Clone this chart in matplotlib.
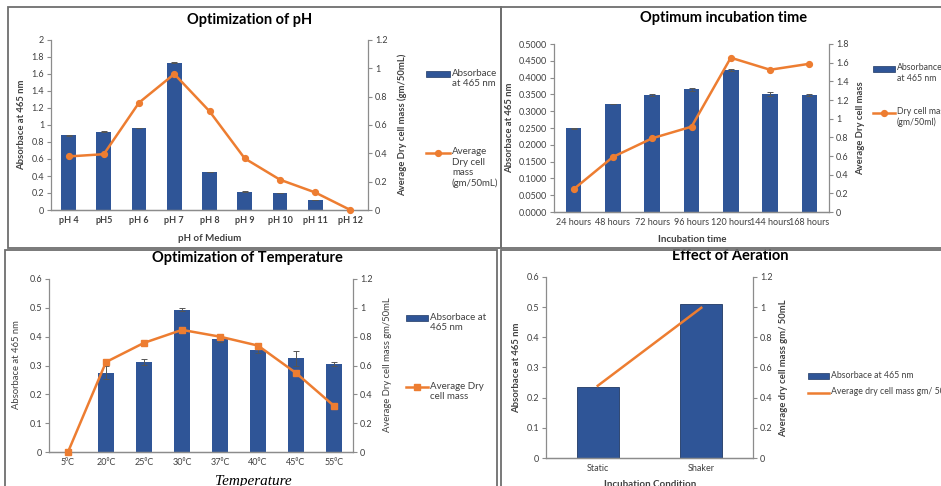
import matplotlib
matplotlib.use("Agg")
import matplotlib.pyplot as plt
from matplotlib.patches import Rectangle
from matplotlib.lines import Line2D
from matplotlib.ticker import FuncFormatter, MultipleLocator
import numpy as np

plt.rcParams['font.family'] = ['Lato', 'DejaVu Sans']

# ---------------- data ----------------
ph_labels = ["pH 4", "pH5", "pH 6", "pH 7", "pH 8", "pH 9", "pH 10", "pH 11", "pH 12"]
ph_abs = [0.88, 0.92, 0.965, 1.73, 0.446, 0.216, 0.20, 0.117, 0.0]
ph_abs_err = [0.005, 0.004, 0.005, 0.006, 0.003, 0.004, 0.003, 0.003, 0.0]
ph_mass = [0.378, 0.394, 0.758, 0.96, 0.697, 0.364, 0.214, 0.124, 0.0]

time_labels = ["24 hours", "48 hours", "72 hours", "96 hours", "120 hours", "144 hours", "168 hours"]
time_abs = [0.249, 0.321, 0.349, 0.365, 0.424, 0.351, 0.348]
time_abs_err = [0.002, 0.001, 0.003, 0.004, 0.003, 0.005, 0.003]
time_mass = [0.244, 0.59, 0.79, 0.914, 1.653, 1.524, 1.588]

temp_labels = ["5\u2070C", "20\u2070C", "25\u2070C", "30\u2070C", "37\u2070C", "40\u2070C", "45\u2070C", "55\u2070C"]
temp_abs = [0.0, 0.275, 0.311, 0.494, 0.392, 0.353, 0.325, 0.305]
temp_abs_err = [0.0, 0.022, 0.010, 0.006, 0.012, 0.010, 0.025, 0.008]
temp_mass = [0.0, 0.624, 0.757, 0.847, 0.80, 0.738, 0.548, 0.32]

aer_labels = ["Static", "Shaker"]
aer_abs = [0.237, 0.512]
aer_mass = [0.479, 0.996]

BLUE = "#2F5597"
ORANGE = "#ED7D31"
SPINE = "#8C8C8C"
TXT = "#404040"

W, H = 941, 486
fig = plt.figure(figsize=(W / 100, H / 100), dpi=100)


def fx(x):
    return x / W


def fy(y):
    return 1 - y / H


def add_ax(l, t, r, b):
    return fig.add_axes([fx(l), fy(b), fx(r) - fx(l), (b - t) / H])


def gfmt(v, pos):
    return f"{v:g}"


def style(ax, ax2, xbold=False):
    for a in (ax, ax2):
        a.spines['top'].set_visible(False)
        for s in a.spines.values():
            s.set_color(SPINE)
            s.set_linewidth(0.9)
        a.tick_params(axis='y', length=3, width=0.8, color=SPINE, labelsize=6.5,
                      labelcolor=TXT, pad=2)
        a.tick_params(axis='x', length=0, labelsize=6.5, labelcolor=TXT, pad=4)
    ax.spines['right'].set_visible(False)
    ax2.spines['left'].set_visible(False)


def legend_entry(kind, text, x0, x1, yc, fs=7.0, marker=None):
    """Legend key drawn in figure pixels: handle from x0 to x1 at centre yc."""
    if kind == 'bar':
        fig.add_artist(Rectangle((fx(x0), fy(yc + 3)), fx(x1) - fx(x0), 6 / H,
                                 transform=fig.transFigure, facecolor=BLUE,
                                 edgecolor='#1F3864', linewidth=0.5))
    else:
        fig.add_artist(Line2D([fx(x0), fx(x1)], [fy(yc), fy(yc)], transform=fig.transFigure,
                              color=ORANGE, lw=1.8))
        if marker:
            fig.add_artist(Line2D([fx((x0 + x1) / 2)], [fy(yc)], transform=fig.transFigure,
                                  color=ORANGE, marker=marker, ms=4.2, lw=0))
    fig.text(fx(x1 + 2), fy(yc - 5.5), text, fontsize=fs, color=TXT, ha='left', va='top',
             linespacing=1.18)


# ---------------- panel 1: pH ----------------
ax = add_ax(51, 40, 368, 210)
ax2 = ax.twinx()
x = np.arange(len(ph_labels))
ax.bar(x, ph_abs, width=0.42, color=BLUE, yerr=ph_abs_err,
       error_kw=dict(ecolor="#555555", elinewidth=0.7, capsize=2, capthick=0.7))
ax2.plot(x, ph_mass, color=ORANGE, lw=1.8, marker='o', ms=4.2, zorder=5, clip_on=False)
ax.set_xlim(-0.5, len(x) - 0.5)
ax.set_ylim(0, 2)
ax2.set_ylim(0, 1.2)
ax.yaxis.set_major_locator(MultipleLocator(0.2))
ax2.yaxis.set_major_locator(MultipleLocator(0.2))
ax.yaxis.set_major_formatter(FuncFormatter(gfmt))
ax2.yaxis.set_major_formatter(FuncFormatter(gfmt))
ax.set_xticks(x)
ax.set_xticklabels(ph_labels, fontweight='bold')
style(ax, ax2)
fig.text(fx(250), fy(20), "Optimization of pH", fontsize=10.5, fontweight='bold',
         ha='center', va='center', color='#000000')
fig.text(fx(22), fy(125), "Absorbace at 465 nm", rotation=90, fontsize=6.8,
         fontweight='bold', ha='center', va='center', color=TXT)
fig.text(fx(402), fy(125), "Average Dry cell mass (gm/50mL)", rotation=90, fontsize=6.8,
         fontweight='bold', ha='center', va='center', color=TXT)
fig.text(fx(210), fy(238), "pH of Medium", fontsize=7.0, fontweight='bold',
         ha='center', va='center', color=TXT)
legend_entry('bar', "Absorbace\nat 465 nm", 426, 450, 74)
legend_entry('line', "Average\nDry cell\nmass\n(gm/50mL)", 426, 450, 153, marker='o')

# ---------------- panel 2: time ----------------
ax = add_ax(554, 44, 829, 212)
ax2 = ax.twinx()
x = np.arange(len(time_labels))
ax.bar(x, time_abs, width=0.4, color=BLUE, yerr=time_abs_err,
       error_kw=dict(ecolor="#555555", elinewidth=0.7, capsize=2, capthick=0.7))
ax2.plot(x, time_mass, color=ORANGE, lw=1.8, marker='o', ms=4.2, zorder=5)
ax.set_xlim(-0.5, len(x) - 0.5)
ax.set_ylim(0, 0.5)
ax2.set_ylim(0, 1.8)
ax.yaxis.set_major_locator(MultipleLocator(0.05))
ax2.yaxis.set_major_locator(MultipleLocator(0.2))
ax.yaxis.set_major_formatter(FuncFormatter(lambda v, p: f"{v:.4f}"))
ax2.yaxis.set_major_formatter(FuncFormatter(gfmt))
ax.set_xticks(x)
ax.set_xticklabels(time_labels)
style(ax, ax2)
fig.text(fx(724), fy(18), "Optimum incubation time", fontsize=10.5, fontweight='bold',
         ha='center', va='center', color='#000000')
fig.text(fx(510), fy(128), "Absorbace at 465 nm", rotation=90, fontsize=6.8,
         fontweight='bold', ha='center', va='center', color=TXT)
fig.text(fx(861), fy(128), "Average Dry cell mass", rotation=90, fontsize=6.8,
         fontweight='bold', ha='center', va='center', color=TXT)
fig.text(fx(692), fy(239), "Incubation time", fontsize=7.0, fontweight='bold',
         ha='center', va='center', color=TXT)
legend_entry('bar', "Absorbance\nat 465 nm", 873, 895, 69, fs=6.3)
legend_entry('line', "Dry cell mass\n(gm/50ml)", 873, 895, 113, fs=6.3, marker='o')

# ---------------- panel 3: temperature ----------------
ax = add_ax(49, 279, 353, 452)
ax2 = ax.twinx()
x = np.arange(len(temp_labels))
ax.bar(x, temp_abs, width=0.4, color=BLUE, yerr=temp_abs_err,
       error_kw=dict(ecolor="#555555", elinewidth=0.7, capsize=2, capthick=0.7))
ax2.plot(x, temp_mass, color=ORANGE, lw=1.8, marker='s', ms=4.0, zorder=5, clip_on=False)
ax.set_xlim(-0.5, len(x) - 0.5)
ax.set_ylim(0, 0.6)
ax2.set_ylim(0, 1.2)
ax.yaxis.set_major_locator(MultipleLocator(0.1))
ax2.yaxis.set_major_locator(MultipleLocator(0.2))
ax.yaxis.set_major_formatter(FuncFormatter(gfmt))
ax2.yaxis.set_major_formatter(FuncFormatter(gfmt))
ax.set_xticks(x)
ax.set_xticklabels(temp_labels)
style(ax, ax2)
fig.text(fx(247), fy(258), "Optimization of Temperature", fontsize=10.5, fontweight='bold',
         ha='center', va='center', color='#000000')
fig.text(fx(17), fy(365), "Absorbace at 465 nm", rotation=90, fontsize=6.8,
         ha='center', va='center', color=TXT)
fig.text(fx(388), fy(365), "Average Dry cell mass gm/50mL", rotation=90, fontsize=6.8,
         ha='center', va='center', color=TXT)
fig.text(fx(253), fy(481), "Temperature", fontsize=11, fontstyle='italic',
         family='Liberation Serif', ha='center', va='center', color='#000000')
legend_entry('bar', "Absorbace at\n465 nm", 406, 428, 318)
legend_entry('line', "Average Dry\ncell mass", 406, 428, 387, marker='s')

# ---------------- panel 4: aeration ----------------
ax = add_ax(546, 277, 753, 458)
ax2 = ax.twinx()
x = np.arange(len(aer_labels))
ax.bar(x, aer_abs, width=0.41, color=BLUE, edgecolor='#1F3864', linewidth=0.6)
ax2.plot(x, aer_mass, color=ORANGE, lw=1.8, zorder=5)
ax.set_xlim(-0.5, len(x) - 0.5)
ax.set_ylim(0, 0.6)
ax2.set_ylim(0, 1.2)
ax.yaxis.set_major_locator(MultipleLocator(0.1))
ax2.yaxis.set_major_locator(MultipleLocator(0.2))
ax.yaxis.set_major_formatter(FuncFormatter(gfmt))
ax2.yaxis.set_major_formatter(FuncFormatter(gfmt))
ax.set_xticks(x)
ax.set_xticklabels(aer_labels)
style(ax, ax2)
fig.text(fx(730), fy(256), "Effect of Aeration", fontsize=10.5, fontweight='bold',
         ha='center', va='center', color='#000000')
fig.text(fx(517), fy(368), "Absorbace at 465 nm", rotation=90, fontsize=6.8,
         fontweight='bold', ha='center', va='center', color=TXT)
fig.text(fx(784), fy(368), "Average dry cell mass gm/ 50mL", rotation=90, fontsize=6.8,
         fontweight='bold', ha='center', va='center', color=TXT)
fig.text(fx(650), fy(484), "Incubation Condition", fontsize=7.0, fontweight='bold',
         ha='center', va='center', color=TXT)
legend_entry('bar', "Absorbace at 465 nm", 808, 829, 376, fs=6.3)
legend_entry('line', "Average dry cell mass gm/ 50mL", 808, 829, 393, fs=6.3)

# ---------------- panel frames ----------------
fc = "#6E6E6E"
frames = [(8, 7, 501, 248), (501, 7, 945, 248), (5, 250, 497, 490), (501, 250, 945, 490)]
for (l, t, r, b) in frames:
    fig.patches.append(Rectangle((fx(l), fy(b)), fx(r) - fx(l), (b - t) / H,
                                 transform=fig.transFigure, fill=False,
                                 edgecolor=fc, linewidth=1.3, zorder=10))

fig.savefig("out.png", dpi=100)
